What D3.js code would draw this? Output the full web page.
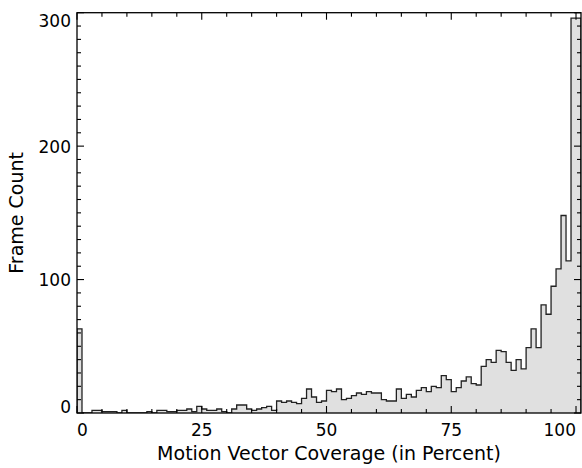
<!DOCTYPE html>
<html lang="en">
<head>
    <meta charset="utf-8">
    <title>Motion Vector Coverage</title>
    <style type="text/css">
        body { margin: 0; background: #fff; }
        .chart text { font-family: "DejaVu Sans", sans-serif; fill: #000; }
        .chart .tick-label { font-size: 17px; }
        .chart .axis-title { font-size: 19px; }
        .chart .hist { fill: #e0e0e0; }
        .chart .hist-line { fill: none; stroke: #222; stroke-width: 1.3; }
        .chart .frame { fill: none; stroke: #000; stroke-width: 1.3; }
        .chart .tick { stroke: #000; stroke-width: 1.1; }
    </style>
</head>
<body>
    <svg class="chart" width="582" height="468"></svg>

    <script src="https://cdn.jsdelivr.net/npm/d3@7"></script>
    <script>
        // counts per 1 % bin, bins start at 0, 1, 2 ... 100
        var binStart = d3.range(0, 101);
        var frameCounts = [
            63, 0, 0, 2, 2, 1, 1, 1, 0, 2,
            0, 0, 0, 0, 1, 0, 2, 2, 1, 1,
            2, 2, 3, 1, 5, 3, 2, 2, 3, 1,
            0, 3, 6, 6, 3, 2, 3, 4, 5, 2,
            9, 8, 9, 8, 7, 11, 18, 12, 8, 9,
            17, 16, 18, 10, 11, 13, 15, 14, 16, 15,
            15, 10, 9, 9, 18, 11, 14, 12, 17, 19,
            16, 20, 19, 28, 25, 16, 19, 24, 27, 22,
            21, 35, 40, 38, 47, 46, 38, 32, 40, 33,
            49, 63, 49, 81, 74, 95, 108, 148, 114, 296,
            296
        ];
        var binWidth = 1;

        var xTicks = [0, 25, 50, 75, 100];
        var xMinor = d3.range(0, 101, 5);
        var yTicks = [0, 100, 200, 300];
        var yMinor = d3.range(0, 301, 10);

        var xTitle = 'Motion Vector Coverage (in Percent)';
        var yTitle = 'Frame Count';

        var svg = d3.select('.chart'),
            plot = {left: 77, top: 12.7, right: 581, bottom: 413};

        var x = d3.scaleLinear().domain([0, 101]).range([plot.left, plot.right]);
        var y = d3.scaleLinear().domain([0, 300]).range([plot.bottom, plot.top]);

        svg.append('clipPath').attr('id', 'clip')
            .append('rect')
            .attr('x', plot.left).attr('y', plot.top)
            .attr('width', plot.right - plot.left)
            .attr('height', plot.bottom - plot.top);

        // step outline points
        var pts = [[0, 0]];
        binStart.forEach(function(b, i) { pts.push([b, frameCounts[i]]); });
        pts.push([binStart[binStart.length - 1] + binWidth, 0]);

        var g = svg.append('g').attr('clip-path', 'url(#clip)');

        g.append('path')
            .attr('class', 'hist')
            .attr('d', d3.area()
                .curve(d3.curveStepAfter)
                .x(function(d) { return x(d[0]); })
                .y0(y(0))
                .y1(function(d) { return y(d[1]); })(pts));

        g.append('path')
            .attr('class', 'hist-line')
            .attr('d', d3.line()
                .curve(d3.curveStepAfter)
                .x(function(d) { return x(d[0]); })
                .y(function(d) { return y(d[1]); })(pts));

        // ticks, pointing inward on all four sides
        var ticks = svg.append('g');
        xMinor.forEach(function(v) {
            var len = xTicks.indexOf(v) >= 0 ? 7 : 4;
            ticks.append('line').attr('class', 'tick')
                .attr('x1', x(v)).attr('x2', x(v))
                .attr('y1', plot.bottom).attr('y2', plot.bottom - len);
            ticks.append('line').attr('class', 'tick')
                .attr('x1', x(v)).attr('x2', x(v))
                .attr('y1', plot.top).attr('y2', plot.top + len);
        });
        yMinor.forEach(function(v) {
            var len = yTicks.indexOf(v) >= 0 ? 7 : 4;
            ticks.append('line').attr('class', 'tick')
                .attr('x1', plot.left).attr('x2', plot.left + len)
                .attr('y1', y(v)).attr('y2', y(v));
            ticks.append('line').attr('class', 'tick')
                .attr('x1', plot.right).attr('x2', plot.right - len)
                .attr('y1', y(v)).attr('y2', y(v));
        });

        svg.append('rect')
            .attr('class', 'frame')
            .attr('x', plot.left).attr('y', plot.top)
            .attr('width', plot.right - plot.left)
            .attr('height', plot.bottom - plot.top);

        // tick labels, outer ones kept inside the frame
        svg.selectAll('.xlab')
            .data(xTicks)
            .enter().append('text')
            .attr('class', 'tick-label')
            .attr('x', function(d) { return x(d); })
            .attr('y', 436)
            .attr('text-anchor', function(d, i) {
                return i === 0 ? 'start' : (i === xTicks.length - 1 ? 'end' : 'middle');
            })
            .text(function(d) { return d; });

        svg.selectAll('.ylab')
            .data(yTicks)
            .enter().append('text')
            .attr('class', 'tick-label')
            .attr('x', 71)
            .attr('y', function(d, i) {
                if (i === 0) return y(d) - 0.5;
                if (i === yTicks.length - 1) return y(d) + 14;
                return y(d) + 6.5;
            })
            .attr('text-anchor', 'end')
            .text(function(d) { return d; });

        svg.append('text')
            .attr('class', 'axis-title')
            .attr('x', (plot.left + plot.right) / 2)
            .attr('y', 460)
            .attr('text-anchor', 'middle')
            .text(xTitle);

        svg.append('text')
            .attr('class', 'axis-title')
            .attr('transform', 'translate(23,' + ((plot.top + plot.bottom) / 2) + ') rotate(-90)')
            .attr('text-anchor', 'middle')
            .text(yTitle);
    </script>
</body>
</html>
